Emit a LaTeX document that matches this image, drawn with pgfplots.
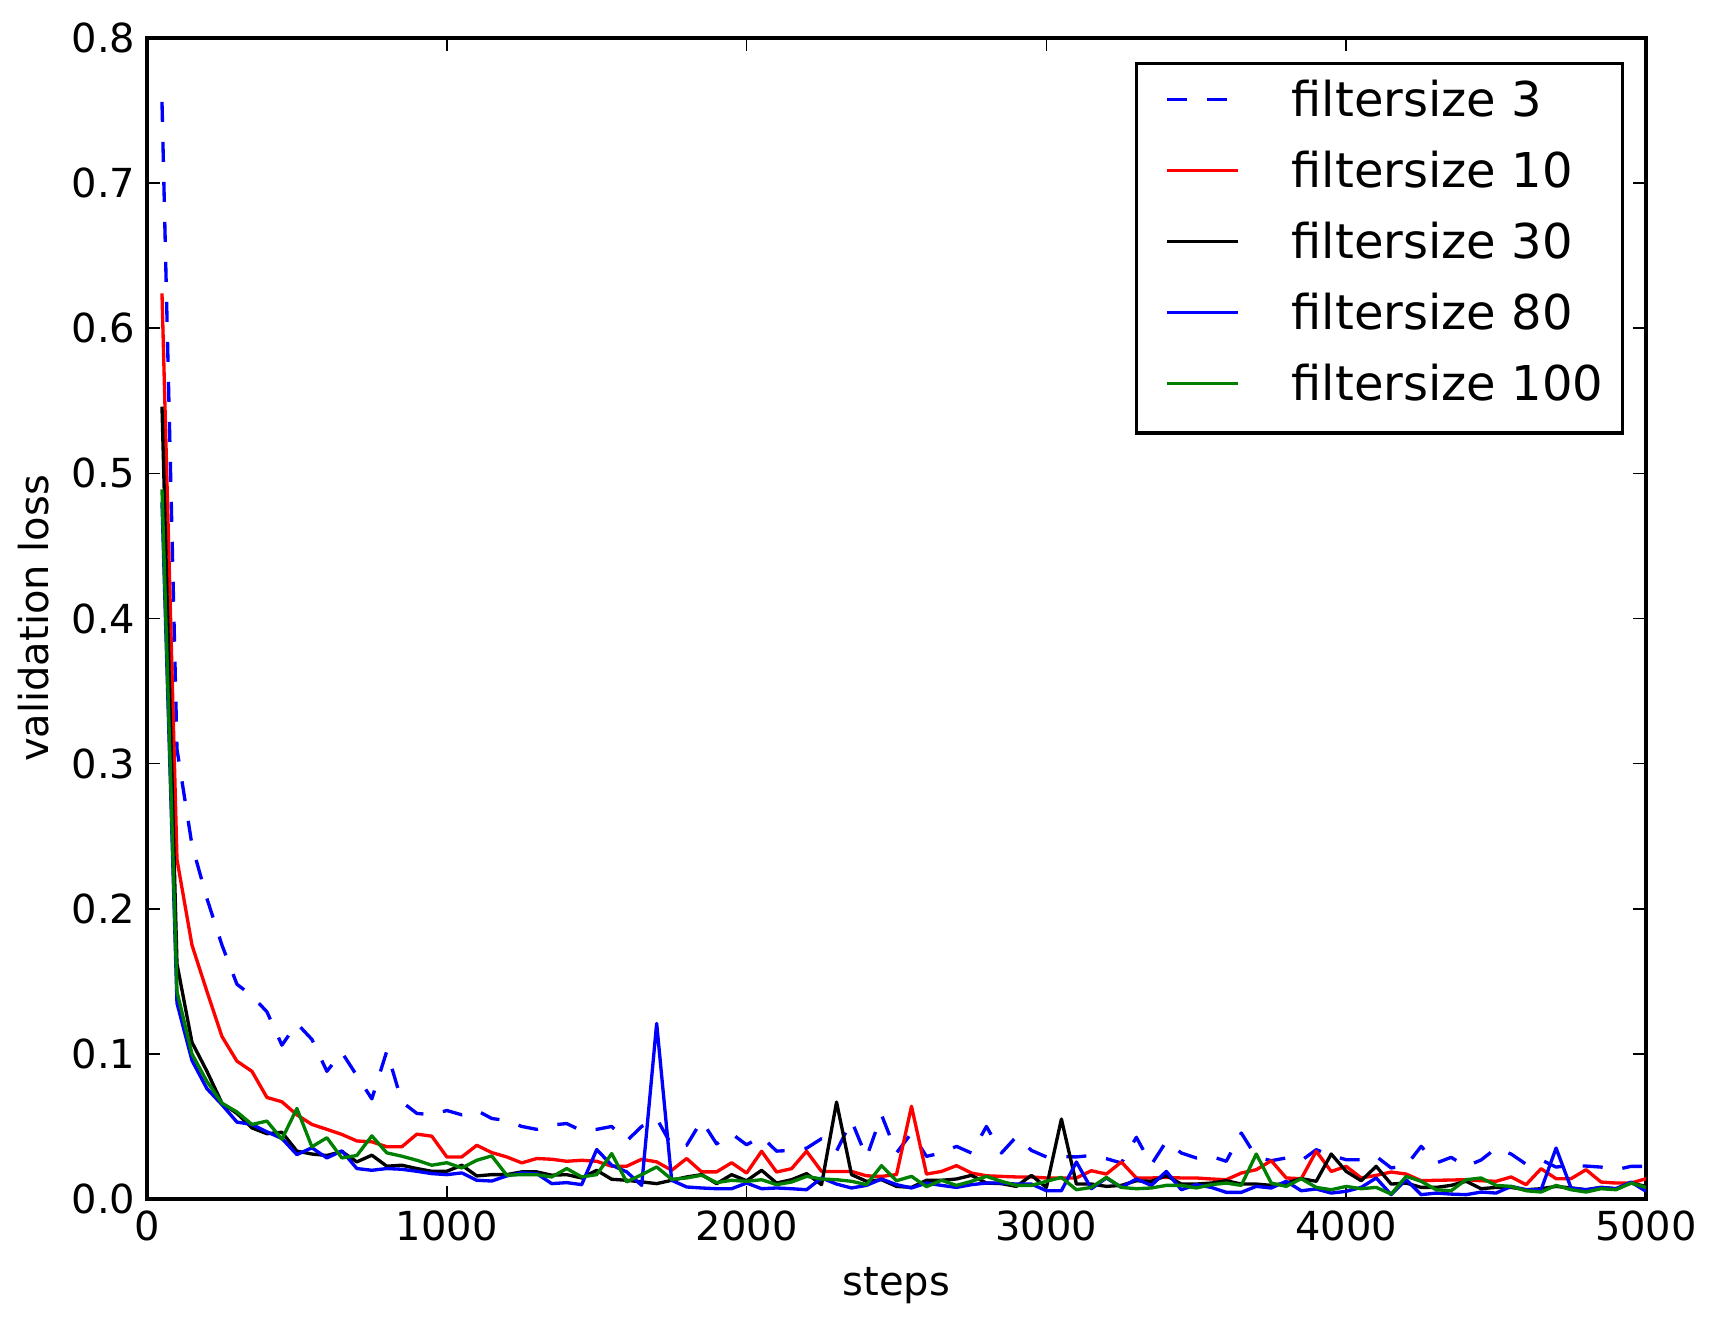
\documentclass[border=0pt]{standalone}
\usepackage{fontspec}
\setmainfont{DejaVu Sans}
\usepackage{pgfplots}
\usepackage{pgfplotstable}
\pgfplotsset{compat=1.18}
\pgfplotstableread{
x fsa fsb fsc fsd fse
50 0.756 0.624 0.546 0.48 0.489
100 0.31 0.234 0.162 0.135 0.143
150 0.244 0.175 0.108 0.0955 0.100
200 0.207 0.143 0.088 0.076 0.081
250 0.175 0.112 0.066 0.065 0.066
300 0.148 0.095 0.059 0.053 0.060
350 0.140 0.088 0.049 0.0514 0.0514
400 0.129 0.070 0.045 0.0463 0.0537
450 0.106 0.067 0.046 0.0417 0.0412
500 0.121 0.058 0.033 0.0306 0.0624
550 0.110 0.0514 0.031 0.0353 0.036
600 0.088 0.048 0.030 0.0283 0.0422
650 0.101 0.0445 0.0327 0.0332 0.0283
700 0.085 0.040 0.0256 0.021 0.030
750 0.069 0.0394 0.0302 0.0198 0.0435
800 0.102 0.036 0.0226 0.021 0.0318
850 0.067 0.036 0.0233 0.0205 0.0295
900 0.059 0.0447 0.021 0.0191 0.0267
950 0.058 0.0433 0.0191 0.0175 0.0233
1000 0.061 0.029 0.0191 0.0168 0.025
1050 0.058 0.029 0.0233 0.018 0.0214
1100 0.061 0.037 0.0159 0.0129 0.0267
1150 0.0555 0.032 0.0168 0.0124 0.0297
1200 0.054 0.029 0.0168 0.0159 0.0164
1250 0.050 0.0249 0.0187 0.018 0.0168
1300 0.048 0.0279 0.0187 0.0175 0.0168
1350 0.051 0.0274 0.0164 0.0106 0.0152
1400 0.052 0.026 0.0168 0.0113 0.021
1450 0.047 0.0267 0.0145 0.0099 0.0152
1500 0.048 0.026 0.0198 0.0341 0.0168
1550 0.050 0.0226 0.0136 0.0233 0.0313
1600 0.040 0.0226 0.0129 0.0187 0.0118
1650 0.050 0.0274 0.0118 0.0094 0.0168
1700 0.0555 0.0256 0.0106 0.121 0.0221
1750 0.037 0.0198 0.0129 0.0129 0.0136
1800 0.037 0.0279 0.0152 0.0083 0.0145
1850 0.054 0.0187 0.0168 0.0076 0.0164
1900 0.038 0.0187 0.0106 0.0071 0.0113
1950 0.045 0.025 0.0168 0.0071 0.0129
2000 0.0374 0.0179 0.0126 0.011 0.0122
2050 0.043 0.0329 0.0198 0.0071 0.0133
2100 0.033 0.0186 0.011 0.0076 0.0099
2150 0.0335 0.0209 0.0133 0.0071 0.0117
2200 0.035 0.0329 0.0175 0.0064 0.0156
2250 0.0416 0.019 0.0099 0.0145 0.0138
2300 0.033 0.019 0.0668 0.0103 0.0133
2350 0.054 0.019 0.0168 0.0076 0.0122
2400 0.0287 0.016 0.0122 0.0094 0.0099
2450 0.058 0.0156 0.0133 0.0138 0.023
2500 0.0317 0.0168 0.0087 0.0099 0.0126
2550 0.0455 0.0639 0.008 0.0076 0.0156
2600 0.0294 0.0172 0.0129 0.011 0.0085
2650 0.0317 0.019 0.0129 0.0094 0.0129
2700 0.0363 0.023 0.0138 0.008 0.0094
2750 0.0317 0.0179 0.0163 0.0099 0.0122
2800 0.050 0.016 0.011 0.011 0.0156
2850 0.0317 0.0156 0.0106 0.011 0.0122
2900 0.043 0.0152 0.0087 0.0103 0.0094
2950 0.0335 0.0152 0.0163 0.0103 0.0094
3000 0.029 0.0145 0.008 0.0057 0.0122
3050 0.0292 0.0145 0.0551 0.0057 0.0149
3100 0.029 0.0145 0.0103 0.0255 0.0064
3150 0.030 0.0195 0.0103 0.0071 0.008
3200 0.0278 0.0172 0.0087 0.0145 0.0149
3250 0.0248 0.0255 0.0094 0.008 0.008
3300 0.0425 0.0145 0.0126 0.0138 0.0071
3350 0.0237 0.0145 0.0122 0.0094 0.0076
3400 0.0397 0.0149 0.0161 0.019 0.0094
3450 0.0317 0.0145 0.0103 0.0064 0.0094
3500 0.0283 0.0145 0.0103 0.0099 0.0076
3550 0.0294 0.0138 0.011 0.008 0.0099
3600 0.026 0.0133 0.0126 0.0046 0.011
3650 0.0455 0.0179 0.0103 0.0046 0.0094
3700 0.029 0.0202 0.0103 0.0087 0.031
3750 0.0264 0.0264 0.0094 0.0076 0.011
3800 0.0283 0.0145 0.011 0.0122 0.0087
3850 0.0264 0.014 0.014 0.0057 0.014
3900 0.034 0.0329 0.0122 0.0069 0.008
3950 0.030 0.019 0.031 0.0041 0.0064
4000 0.0271 0.0225 0.019 0.0053 0.0087
4050 0.027 0.0145 0.0126 0.008 0.0071
4100 0.0294 0.0163 0.0225 0.0145 0.008
4150 0.0214 0.0186 0.0103 0.003 0.0034
4200 0.023 0.0172 0.011 0.0133 0.0156
4250 0.0363 0.0126 0.008 0.003 0.0122
4300 0.0248 0.0129 0.008 0.0041 0.0064
4350 0.0287 0.0131 0.0094 0.0034 0.0057
4400 0.0225 0.0133 0.0122 0.003 0.0133
4450 0.0269 0.0126 0.0071 0.0048 0.0145
4500 0.035 0.0122 0.008 0.0041 0.0094
4550 0.031 0.0152 0.008 0.0087 0.0087
4600 0.024 0.0099 0.0064 0.0064 0.0057
4650 0.027 0.0209 0.0071 0.0064 0.0048
4700 0.022 0.014 0.0087 0.0351 0.0094
4750 0.0232 0.014 0.0076 0.0076 0.0064
4800 0.0227 0.0202 0.0064 0.0064 0.0048
4850 0.022 0.0117 0.008 0.008 0.0071
4900 0.0202 0.011 0.0071 0.0071 0.0064
4950 0.0225 0.011 0.011 0.0117 0.011
5000 0.0225 0.014 0.0087 0.0053 0.008
}\losstable
\definecolor{mplgreen}{rgb}{0,0.5,0}
\begin{document}
\begin{tikzpicture}
\begin{axis}[
  scale only axis,
  width=449.7pt, height=348.3pt,
  xmin=0, xmax=5000, ymin=0, ymax=0.8,
  xtick={0,1000,2000,3000,4000,5000},
  ytick={0,0.1,0.2,0.3,0.4,0.5,0.6,0.7,0.8},
  /pgf/number format/assume math mode=true,
  xticklabel style={font=\fontsize{12pt}{14pt}\selectfont, /pgf/number format/.cd, fixed, 1000 sep={}},
  yticklabel style={font=\fontsize{12pt}{14pt}\selectfont, /pgf/number format/.cd, fixed, fixed zerofill, precision=1},
  scaled ticks=false,
  tick align=inside,
  tick pos=both,
  major tick length=4pt,
  every tick/.style={black, line width=0.5pt},
  axis line style={line width=1pt},
  xlabel={steps},
  ylabel={validation loss},
  label style={font=\fontsize{12pt}{14pt}\selectfont},
  x label style={at={(axis description cs:0.5,-0.0827)}, anchor=base},
  y label style={at={(axis description cs:-0.066,0.5)}, anchor=base},
  legend cell align=left,
  legend style={at={(1,1)}, anchor=north east, xshift=-6.6pt, yshift=-7.1pt,
    draw=black, line width=1pt, inner xsep=5.7pt, inner ysep=6.4pt,
    font=\fontsize{14.4pt}{17pt}\selectfont, row sep=8.4pt,
    nodes={inner sep=0pt, text height=9.6pt, text depth=3.3pt}},
  legend image code/.code={%
    \path[draw=none, fill=none] (0pt,0pt) -- (40.9pt,0pt);
    \draw[#1, yshift=2.05pt] (3.6pt,0pt) -- (24.9pt,0pt);},
  every axis plot/.append style={line width=1pt, line join=round},
]
\addplot[blue, dash pattern=on 6pt off 6pt] table[x=x, y=fsa] {\losstable};
\addlegendentry{filtersize 3}
\addplot[red] table[x=x, y=fsb] {\losstable};
\addlegendentry{filtersize 10}
\addplot[black] table[x=x, y=fsc] {\losstable};
\addlegendentry{filtersize 30}
\addplot[blue] table[x=x, y=fsd] {\losstable};
\addlegendentry{filtersize 80}
\addplot[mplgreen] table[x=x, y=fse] {\losstable};
\addlegendentry{filtersize 100}
\end{axis}
\pgfresetboundingbox
\path[use as bounding box] (-44.1pt,-37.5pt) rectangle (469.8pt,359.7pt);
\end{tikzpicture}
\end{document}
